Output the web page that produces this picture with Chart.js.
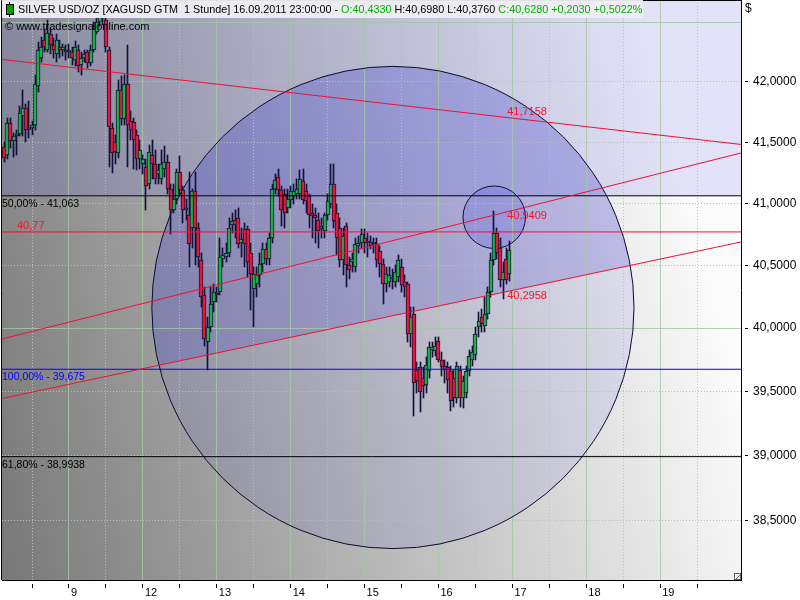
<!DOCTYPE html>
<html><head><meta charset="utf-8">
<script src="https://cdn.jsdelivr.net/npm/chart.js@4/dist/chart.umd.min.js"></script>
<style>html,body{margin:0;padding:0;background:#fff;overflow:hidden}#wrap{width:800px;height:600px}</style>
</head><body><div id="wrap"><canvas id="c" width="800" height="600"></canvas></div>
<script>
// ---- data: hourly bars XAGUSD, first bar 08.09.2011 03:00 (hour -21 relative to 09.09. 00:00) ----
const firstBarHour = -21;
const open = [41.46,41.40,41.66,41.51,41.55,41.57,41.72,41.78,41.60,41.62,
41.64,41.97,42.20,42.35,42.27,42.40,42.31,42.23,42.29,42.27,
42.27,42.25,42.25,42.18,42.27,42.14,42.20,42.25,42.16,42.27,
42.42,42.50,42.62,42.52,42.27,41.62,41.50,41.41,41.93,41.69,
41.98,41.68,41.67,41.56,41.36,41.32,41.30,41.16,41.40,41.32,
41.24,41.20,41.28,41.34,41.12,40.95,41.04,41.26,41.11,40.95,
40.91,40.80,41.10,40.80,40.54,40.26,39.89,40.01,40.21,40.27,
40.29,40.55,40.57,40.60,40.83,40.87,40.88,40.68,40.79,40.79,
40.60,40.31,40.35,40.42,40.51,40.63,40.55,40.72,41.12,41.22,
41.11,41.08,40.96,41.03,41.06,41.08,41.08,41.18,41.10,41.06,
40.92,40.91,40.87,40.82,40.78,40.91,41.00,41.16,40.92,40.80,
40.54,40.82,40.50,40.53,40.49,40.66,40.68,40.72,40.68,40.69,
40.67,40.67,40.62,40.51,40.35,40.37,40.39,40.37,40.41,40.49,
40.37,40.35,39.95,40.11,39.67,39.69,39.61,39.55,39.66,39.83,
39.82,39.90,39.75,39.70,39.69,39.66,39.61,39.45,39.67,39.45,
39.49,39.66,39.75,39.79,40.01,40.09,40.02,40.11,40.29,40.54,
40.76,40.64,40.38,40.55,40.433];
const high = [41.50,41.70,41.70,41.58,41.60,41.80,41.93,41.82,41.84,41.68,
42.06,42.33,42.38,42.44,42.52,42.44,42.37,42.40,42.35,42.32,
42.31,42.32,42.29,42.34,42.31,42.25,42.27,42.27,42.31,42.50,
42.59,42.72,42.74,42.56,42.29,41.66,41.56,42.02,42.05,42.06,
42.31,41.76,41.70,41.60,41.52,41.40,41.36,41.48,41.52,41.44,
41.32,41.44,41.47,41.40,41.16,41.16,41.28,41.39,41.14,41.04,
41.26,41.12,41.26,40.84,40.60,40.33,40.09,40.33,40.35,40.33,
40.72,40.64,40.68,40.88,40.92,40.95,40.96,40.80,40.84,40.82,
40.68,40.49,40.49,40.60,40.68,40.68,40.76,41.16,41.24,41.28,
41.14,41.12,41.12,41.14,41.16,41.20,41.27,41.28,41.16,41.08,
41.00,40.96,40.92,40.88,40.92,41.08,41.32,41.32,41.00,40.88,
40.80,40.84,40.57,40.60,40.72,40.74,40.79,40.79,40.76,40.74,
40.72,40.72,40.66,40.55,40.49,40.49,40.47,40.50,40.58,40.55,
40.42,40.37,40.17,40.17,39.73,39.73,39.69,39.77,39.89,39.89,
39.93,39.93,39.81,39.75,39.73,39.70,39.67,39.73,39.70,39.62,
39.70,39.83,39.86,40.01,40.13,40.15,40.25,40.33,40.60,40.94,
40.80,40.72,40.53,40.64,40.698];
const low = [41.34,41.36,41.45,41.38,41.40,41.55,41.55,41.50,41.54,41.56,
41.60,41.92,42.17,42.25,42.25,42.23,42.20,42.17,42.20,42.22,
42.18,42.20,42.14,42.13,42.08,42.06,42.17,42.12,42.13,42.25,
42.40,42.47,42.48,42.25,41.30,41.25,41.32,41.37,41.64,41.64,
41.30,41.52,41.28,41.27,41.28,41.24,40.95,41.12,41.20,41.16,
41.16,41.16,41.22,41.08,40.75,40.92,41.00,41.07,40.84,40.87,
40.49,40.64,40.50,40.49,40.17,39.86,39.67,39.97,40.13,40.21,
40.26,40.49,40.53,40.57,40.76,40.72,40.64,40.57,40.49,40.41,
40.14,40.01,40.25,40.33,40.45,40.50,40.50,40.68,41.08,41.06,
40.82,40.80,40.92,40.96,41.00,41.04,41.04,41.00,40.92,40.80,
40.72,40.68,40.64,40.72,40.72,40.87,40.96,40.80,40.58,40.49,
40.42,40.33,40.39,40.45,40.45,40.60,40.63,40.60,40.57,40.63,
40.60,40.49,40.41,40.19,40.29,40.33,40.31,40.33,40.37,40.29,
40.25,39.89,39.85,39.31,39.49,39.34,39.45,39.49,39.61,39.77,
39.78,39.73,39.62,39.57,39.49,39.35,39.38,39.41,39.38,39.37,
39.45,39.62,39.70,39.75,39.93,39.97,39.97,40.07,40.25,40.50,
40.55,40.33,40.23,40.35,40.376];
const close = [41.37,41.66,41.51,41.55,41.57,41.74,41.78,41.60,41.62,41.64,
41.98,42.27,42.29,42.29,42.41,42.31,42.27,42.35,42.27,42.29,
42.25,42.27,42.20,42.29,42.13,42.20,42.23,42.16,42.27,42.44,
42.50,42.62,42.54,42.29,41.63,41.41,41.42,41.93,41.69,41.98,
41.64,41.60,41.52,41.36,41.44,41.36,41.14,41.42,41.32,41.20,
41.27,41.32,41.34,41.12,40.95,41.04,41.26,41.11,40.95,40.96,
40.67,41.10,40.80,40.57,40.25,39.91,40.01,40.19,40.29,40.26,
40.57,40.58,40.60,40.80,40.86,40.83,40.67,40.71,40.67,40.53,
40.43,40.43,40.42,40.51,40.63,40.55,40.72,41.12,41.19,41.11,
40.95,40.92,41.04,41.10,41.10,41.12,41.20,41.03,41.02,40.91,
40.90,40.88,40.78,40.79,40.91,41.02,41.16,40.86,40.72,40.54,
40.74,40.50,40.46,40.55,40.67,40.68,40.75,40.68,40.70,40.66,
40.68,40.54,40.51,40.35,40.43,40.42,40.41,40.45,40.54,40.34,
40.33,39.95,40.09,39.57,39.58,39.50,39.54,39.71,39.85,39.85,
39.86,39.75,39.69,39.67,39.59,39.43,39.45,39.70,39.45,39.58,
39.66,39.78,39.81,39.95,40.06,40.03,40.11,40.29,40.54,40.76,
40.60,40.38,40.45,40.38,40.628];

// x axis: hours relative to 09.09.2011 00:00 (trading hours), day boundaries and mid-day marks
const dayTickHours  = [0, 24, 48, 72, 96, 120, 144, 168, 192];
const dayTickLabels = ['9', '12', '13', '14', '15', '16', '17', '18', '19'];
const midDayHours   = [-12, 12, 36, 60, 84, 108, 132, 156, 180, 204];
const xRange = [-21.76, 218.25];

// y axis (log) price ticks
const priceTicks = [38.5, 39, 39.5, 40, 40.5, 41, 41.5, 42, 42.5];
const priceMajor = [40, 42.5];
const yRange = [38.052, 42.688];

// drawing tools: trend lines given by their value at left and right edge of the plot
const trendDown  = [42.188, 41.483];
const channelUp  = [39.914, 41.413];
const channelLow = [39.446, 40.689];
const trendLabelValues = [41.7158, 40.9409, 40.2958];
const trendLabelHour = 142.3;
const markLevel = 40.77;
const fibValues = [41.063, 39.675, 38.9938];
const fibLabels = ['50,00% - 41,063', '100,00% - 39,675', '61,80% - 38,9938'];
// circles: centre (hour, price) and price of topmost point
const bigCircle   = {hour: 105.2, price: 40.164, topPrice: 42.13};
const smallCircle = {hour: 138.1, price: 40.889, topPrice: 41.143};

// ---- build ----
const hours = open.map((_, i) => firstBarHour + i);
const UP = '#1fae4a', DOWN = '#e8173a', EDGE = '#121238', RED = '#ee1133';
const bodyColors = open.map((o, i) => close[i] >= o ? UP : DOWN);
const isDay = v => dayTickHours.includes(v);
const fmt = v => v.toFixed(4).replace('.', ',');

function hLine(v, color) {
  return {type: 'line', data: [{x: xRange[0], y: v}, {x: xRange[1], y: v}], borderColor: color,
    borderWidth: 1, pointRadius: 0, order: 0};
}
function tLine(pair, color) {
  return {type: 'line', data: [{x: xRange[0], y: pair[0]}, {x: xRange[1], y: pair[1]}], borderColor: color,
    borderWidth: 1, pointRadius: 0, order: 0};
}

const datasets = [
  tLine(trendDown, RED), tLine(channelUp, RED), tLine(channelLow, RED),
  hLine(markLevel, RED),
  hLine(fibValues[0], '#000000'), hLine(fibValues[1], '#0000ff'), hLine(fibValues[2], '#000000'),
  {type: 'bar', label: 'body', data: hours.map((h, i) => ({x: h, y: [open[i], close[i]]})),
    backgroundColor: bodyColors, borderColor: EDGE, borderWidth: 1, borderSkipped: false,
    barThickness: 4, minBarLength: 2, grouped: false, order: 1},
  {type: 'bar', label: 'wick', data: hours.map((h, i) => ({x: h, y: [low[i], high[i]]})),
    backgroundColor: EDGE, borderWidth: 0, barThickness: 1, grouped: false, order: 2}
];

function circlePx(c, xs, ys) {
  const cx = xs.getPixelForValue(c.hour), cy = ys.getPixelForValue(c.price);
  const r = cy - ys.getPixelForValue(c.topPrice);
  return {cx, cy, r};
}

const backdrop = {
  id: 'backdrop',
  beforeDraw(chart) {
    const {ctx, chartArea: a, scales: {x, y}} = chart;
    ctx.save();
    ctx.beginPath(); ctx.rect(a.left, a.top, a.width, a.height); ctx.clip();
    const g = ctx.createLinearGradient(a.left, a.bottom, a.right, a.bottom - 180);
    g.addColorStop(0, '#787878'); g.addColorStop(1, '#fbfbfb');
    ctx.fillStyle = g; ctx.fillRect(a.left, a.top, a.width, a.height);
    const yf = y.getPixelForValue(fibValues[0]);
    ctx.fillStyle = 'rgba(100,100,235,0.16)';
    ctx.fillRect(a.left, a.top, a.width, yf - a.top);
    const b = circlePx(bigCircle, x, y);
    ctx.beginPath(); ctx.arc(b.cx, b.cy, b.r, 0, Math.PI * 2);
    ctx.fillStyle = 'rgba(70,70,210,0.10)'; ctx.fill();
    ctx.save(); ctx.clip();
    const xl = x.getPixelForValue(xRange[0]), xr = x.getPixelForValue(xRange[1]);
    ctx.beginPath(); ctx.moveTo(xl, a.top); ctx.lineTo(xr, a.top);
    ctx.lineTo(xr, y.getPixelForValue(channelLow[1])); ctx.lineTo(xl, y.getPixelForValue(channelLow[0]));
    ctx.closePath(); ctx.fillStyle = 'rgba(70,70,210,0.22)'; ctx.fill();
    ctx.restore();
    const s = circlePx(smallCircle, x, y);
    ctx.beginPath(); ctx.arc(s.cx, s.cy, s.r, 0, Math.PI * 2);
    ctx.fillStyle = 'rgba(70,70,230,0.2)'; ctx.fill();
    ctx.restore();
  },
  beforeDatasetsDraw(chart) {
    const {ctx, chartArea: a, scales: {x, y}} = chart;
    // snap candle bars onto the pixel grid for crisp edges
    chart.data.datasets.forEach((ds, di) => {
      if (ds.type !== 'bar') return;
      const meta = chart.getDatasetMeta(di);
      meta.data.forEach(el => {
        el.x = ds.barThickness % 2 ? Math.floor(el.x) + 0.5 : Math.round(el.x);
        el.y = Math.round(el.y); el.base = Math.round(el.base);
      });
    });
    ctx.save();
    ctx.beginPath(); ctx.rect(a.left, a.top, a.width, a.height); ctx.clip();
    ctx.strokeStyle = '#0c0c30'; ctx.lineWidth = 1;
    [bigCircle, smallCircle].forEach(c => {
      const p = circlePx(c, x, y);
      ctx.beginPath(); ctx.arc(p.cx, p.cy, p.r, 0, Math.PI * 2); ctx.stroke();
    });
    ctx.restore();
  },
  afterDatasetsDraw(chart) {
    const {ctx, chartArea: a, scales: {x, y}} = chart;
    ctx.save();
    ctx.font = '11px "Liberation Sans"';
    ctx.textAlign = 'left';
    const lx = x.getPixelForValue(trendLabelHour);
    ctx.fillStyle = '#ff1030';
    ctx.textBaseline = 'bottom';
    ctx.fillText(fmt(trendLabelValues[0]), lx, y.getPixelForValue(trendLabelValues[0]) + 1);
    ctx.textBaseline = 'top';
    ctx.fillText(fmt(trendLabelValues[1]), lx, y.getPixelForValue(trendLabelValues[1]));
    ctx.fillText(fmt(trendLabelValues[2]), lx, y.getPixelForValue(trendLabelValues[2]));
    ctx.textBaseline = 'bottom';
    ctx.fillText(markLevel.toFixed(2).replace('.', ','), a.left + 15, y.getPixelForValue(markLevel));
    ctx.font = '10.5px "Liberation Sans"';
    ctx.textBaseline = 'top';
    const fibCol = ['#000000', '#0000ff', '#000000'];
    fibValues.forEach((v, i) => {
      ctx.fillStyle = fibCol[i];
      ctx.fillText(fibLabels[i], a.left, y.getPixelForValue(v) + 3);
    });
    ctx.restore();
  },
  afterDraw(chart) {
    const {ctx, chartArea: a} = chart;
    ctx.save();
    ctx.strokeStyle = '#000'; ctx.lineWidth = 1;
    ctx.beginPath(); ctx.moveTo(a.left - 0.5, a.bottom); ctx.lineTo(a.left - 0.5, a.top + 0.5); ctx.lineTo(a.right, a.top + 0.5); ctx.stroke();
    ctx.fillStyle = 'rgba(238,238,242,0.95)';
    ctx.fillRect(2, 0, 641, 18);
    ctx.fillStyle = '#000'; ctx.fillRect(9, 2, 1, 15);
    ctx.fillStyle = '#00a000'; ctx.fillRect(7, 5, 6, 9);
    ctx.strokeStyle = '#000'; ctx.strokeRect(6.5, 4.5, 7, 10);
    ctx.font = '10.8px "Liberation Sans"'; ctx.textBaseline = 'middle'; ctx.textAlign = 'left';
    const segs = [['SILVER USD/OZ [XAGUSD GTM  1 Stunde] 16.09.2011 23:00:00 - ', '#000'],
      ['O:40,4330', '#00b000'], [' H:40,6980 L:40,3760 ', '#000'], ['C:40,6280 +0,2030 +0,5022%', '#00b000']];
    let tx = 18;
    segs.forEach(([t, c]) => { ctx.fillStyle = c; ctx.fillText(t, tx, 10); tx += ctx.measureText(t).width; });
    ctx.fillStyle = '#000'; ctx.font = '11px "Liberation Sans"';
    ctx.fillText('\u00a9 www.tradesignalonline.com', 5, 27);
    ctx.font = '12px "Liberation Sans"'; ctx.textBaseline = 'top';
    ctx.fillText('$', 745, 3);
    ctx.fillStyle = '#f4f4f4'; ctx.fillRect(734, 573, 7, 7);
    ctx.strokeStyle = '#606060'; ctx.strokeRect(734.5, 573.5, 6, 6);
    ctx.beginPath(); ctx.moveTo(735, 580); ctx.lineTo(741, 574); ctx.stroke();
    ctx.restore();
  }
};

Chart.defaults.font.family = '"Liberation Sans", Arial, sans-serif';

new Chart(document.getElementById('c'), {
  type: 'bar',
  data: {datasets},
  options: {
    responsive: false, animation: false, devicePixelRatio: 1,
    layout: {padding: {left: 2, top: 0, right: 0, bottom: 0}},
    plugins: {legend: {display: false}, tooltip: {enabled: false}, title: {display: false}},
    scales: {
      x: {
        type: 'linear', min: xRange[0], max: xRange[1], offset: false, bounds: 'data',
        afterBuildTicks: s => { s.ticks = midDayHours.concat(dayTickHours).sort((p, q) => p - q).map(v => ({value: v})); },
        afterFit: s => { s.height = 20; s.paddingLeft = 0; s.paddingRight = 0; },
        grid: {offset: false, lineWidth: 1, drawTicks: true, tickLength: 8, tickWidth: 1,
          color: c => c.tick && isDay(c.tick.value) ? 'rgba(168,196,168,0.85)' : '#bcbcc4',
          tickColor: '#000', tickBorderDash: [0, 3, 5, 20]},
        border: {display: true, color: '#000', width: 1,
          dash: c => (c.tick && !isDay(c.tick.value)) ? [1, 2] : []},
        ticks: {autoSkip: false, maxRotation: 0, minRotation: 0, align: 'start', labelOffset: 2, padding: -2,
          color: '#000', font: {size: 11},
          callback: v => { const i = dayTickHours.indexOf(v); return i >= 0 ? dayTickLabels[i] : ''; }}
      },
      y: {
        type: 'logarithmic', position: 'right', min: yRange[0], max: yRange[1], bounds: 'data',
        afterBuildTicks: s => { s.ticks = priceTicks.map(v => ({value: v})); },
        afterFit: s => { s.width = 59; s.paddingTop = 0; s.paddingBottom = 0; },
        grid: {lineWidth: 1, drawTicks: true, tickLength: 7, tickWidth: 1,
          color: c => c.tick && priceMajor.includes(c.tick.value) ? 'rgba(168,196,168,0.85)' : '#bcbcc4',
          tickColor: c => c.tick && c.tick.value === 42.5 ? 'rgba(0,0,0,0)' : '#000',
          tickBorderDash: [0, 3, 4, 20]},
        border: {display: true, color: '#000', width: 1,
          dash: c => (c.tick && !priceMajor.includes(c.tick.value)) ? [1, 2] : []},
        ticks: {padding: 5, color: '#000', font: {size: 12},
          callback: v => v === 42.5 ? '' : fmt(v)}
      }
    }
  },
  plugins: [backdrop]
});
</script>
</body></html>
